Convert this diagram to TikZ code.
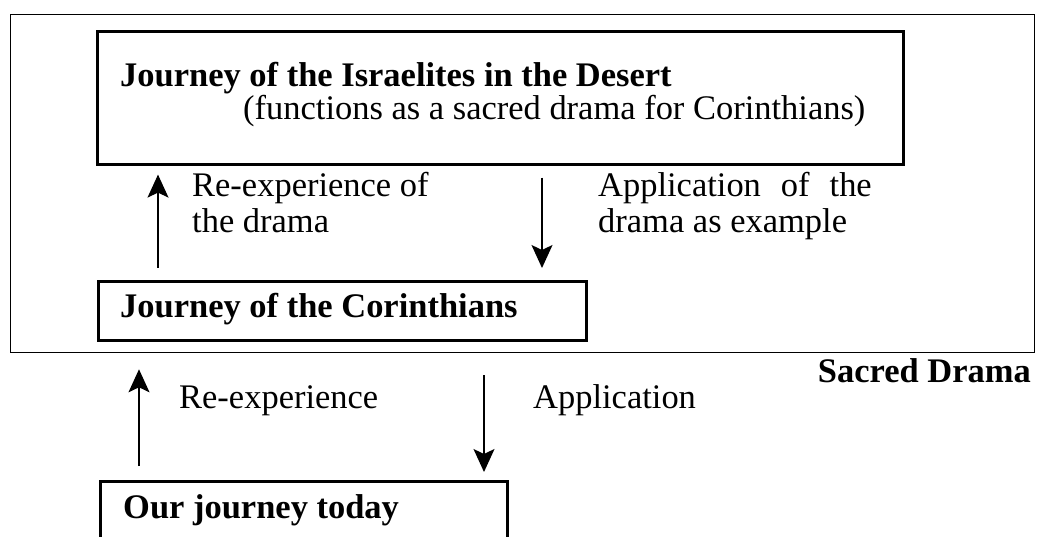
\documentclass[tikz,border=0pt]{standalone}
\usepackage{fontspec}
\setmainfont{Liberation Serif}
\usetikzlibrary{arrows.meta}
\begin{document}
\begin{tikzpicture}[x=1bp,y=-1bp,
  frame/.style={draw, line width=1.3bp, inner sep=0pt, anchor=north west},
  box/.style={draw, line width=2.6bp, inner sep=0pt, anchor=north west},
  txt/.style={anchor=base west, inner sep=0pt, font=\fontsize{34.6}{36}\selectfont},
  btxt/.style={txt, font=\fontsize{34.6}{36}\selectfont\bfseries},
  arr/.style={line width=1.3bp, -{Stealth[length=23bp,width=21bp,inset=5bp]}}]
\useasboundingbox (0,0) rectangle (1038,537);
\clip (0,0) rectangle (1038,537);
% boxes
\node[frame, minimum width=1024bp, minimum height=338bp] (sacred) at (10,14) {};
\node[box, minimum width=806bp, minimum height=133bp] (isr) at (96,30) {};
\node[box, minimum width=488bp, minimum height=59bp] (cor) at (97,280) {};
\node[box, minimum width=407bp, minimum height=80bp] (our) at (99,480) {};
% texts
\node[btxt] (t1) at (120,87) {Journey of the Israelites in the Desert};
\node[txt] (t2) at (243,120) {(functions as a sacred drama for Corinthians)};
\node[btxt] (t3) at (120,318) {Journey of the Corinthians};
\node[btxt] (t4) at (123,518) {Our journey today};
\node[txt] (l1) at (192,197) {Re-experience of};
\node[txt] (l2) at (192,233) {the drama};
\node[txt] (l3) at (598,197) {Application\hspace{0.33em} of\hspace{0.33em} the};
\node[txt] (l4) at (598,233) {drama as example};
\node[txt] (l5) at (179,408) {Re-experience};
\node[txt] (l6) at (533,408) {Application};
\node[btxt, anchor=base east] (sd) at (1031,383) {Sacred Drama};
% arrows
\coordinate (a1) at (158,0);
\draw[arr, shorten <=12bp, shorten >=9bp] (a1 |- cor.north) -- (a1 |- isr.south);
\coordinate (a2) at (542,0);
\draw[arr, shorten <=12bp, shorten >=12bp] (a2 |- isr.south) -- (a2 |- cor.north);
\coordinate (a3) at (139,0);
\draw[arr, shorten <=14bp, shorten >=16bp] (a3 |- our.north) -- (a3 |- sacred.south);
\coordinate (a4) at (484,0);
\draw[arr, shorten <=22bp, shorten >=8bp] (a4 |- sacred.south) -- (a4 |- our.north);
\end{tikzpicture}
\end{document}
